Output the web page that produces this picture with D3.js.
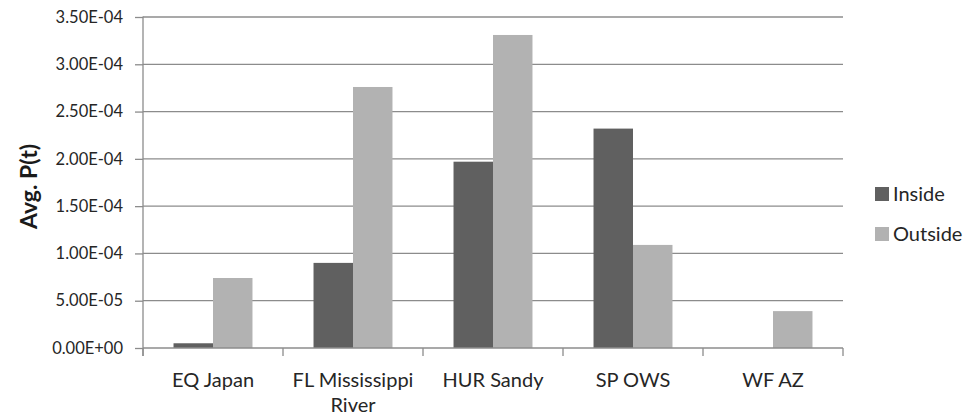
<!DOCTYPE html>
<html><head><meta charset="utf-8">
<script src="https://cdn.jsdelivr.net/npm/d3@7"></script>
<style>
html,body{margin:0;padding:0;background:#fff;}
svg{display:block;font-family:Lato,"Open Sans",sans-serif;}
</style></head>
<body>
<svg id="chart" width="969" height="416"></svg>
<script>
const categories = ["EQ Japan", "FL Mississippi River", "HUR Sandy", "SP OWS", "WF AZ"];
const categoryLines = [["EQ Japan"], ["FL Mississippi", "River"], ["HUR Sandy"], ["SP OWS"], ["WF AZ"]];
const seriesNames = ["Inside", "Outside"];
const insideValues = [5e-6, 9.0e-5, 1.97e-4, 2.32e-4, 0];
const outsideValues = [7.4e-5, 2.76e-4, 3.31e-4, 1.09e-4, 3.9e-5];
const yTickValues = [0, 5e-5, 1e-4, 1.5e-4, 2e-4, 2.5e-4, 3e-4, 3.5e-4];
const yTickLabels = ["0.00E+00","5.00E-05","1.00E-04","1.50E-04","2.00E-04","2.50E-04","3.00E-04","3.50E-04"];
const yTitle = "Avg. P(t)";
const colors = ["#606060", "#b2b2b2"];

(function(){
const svg = d3.select("#chart");
const mLeft = 143, mRight = 843, mTop = 17, mBottom = 348;
const gridColor = "#8c8c8c";

const y = d3.scaleLinear().domain([0, 3.5e-4]).range([mBottom, mTop]);
const x0 = d3.scaleBand().domain(categories).range([mLeft, mRight]).paddingInner(0.436).paddingOuter(0.218);
const x1 = d3.scaleBand().domain(seriesNames).range([0, x0.bandwidth()]);

svg.append("g").selectAll("line").data(yTickValues.filter(v => v > 0)).join("line")
  .attr("x1", mLeft).attr("x2", mRight)
  .attr("y1", d => y(d)).attr("y2", d => y(d))
  .attr("stroke", gridColor).attr("stroke-width", 1.3);

const data = categories.map((c, i) => ({cat: c, vals: [
  {s: "Inside", v: insideValues[i], c: colors[0]},
  {s: "Outside", v: outsideValues[i], c: colors[1]}]}));
const g = svg.append("g").selectAll("g").data(data).join("g")
  .attr("transform", d => `translate(${x0(d.cat)},0)`);
g.selectAll("rect").data(d => d.vals.filter(e => e.v > 0)).join("rect")
  .attr("x", d => x1(d.s)).attr("width", x1.bandwidth())
  .attr("y", d => y(d.v)).attr("height", d => y(0) - y(d.v))
  .attr("fill", d => d.c);

const yAxis = d3.axisLeft(y).tickValues(yTickValues).tickSize(8).tickPadding(12)
  .tickFormat((d, i) => yTickLabels[i]);
const ya = svg.append("g").attr("transform", `translate(${mLeft},0)`).call(yAxis);
ya.select(".domain").attr("stroke", gridColor).attr("stroke-width", 1.3).attr("d", `M0,${mTop-0.5}V${mBottom+8}`);
ya.selectAll(".tick line").attr("stroke", gridColor).attr("stroke-width", 1.3);
ya.selectAll(".tick text").attr("fill", "#262626").style("font-size", "16.5px").style("font-family", "Lato");

const xBoundaries = categories.map(c => x0(c) - x0.step() * x0.paddingOuter()).concat([mRight]);
const xa = svg.append("g");
xa.append("line").attr("x1", mLeft).attr("x2", mRight).attr("y1", mBottom).attr("y2", mBottom)
  .attr("stroke", gridColor).attr("stroke-width", 1.3);
xa.selectAll("line.tk").data(xBoundaries).join("line").attr("class", "tk")
  .attr("x1", d => d).attr("x2", d => d).attr("y1", mBottom).attr("y2", mBottom + 8)
  .attr("stroke", gridColor).attr("stroke-width", 1.3);
const xl = xa.selectAll("text").data(categories).join("text")
  .attr("x", d => x0(d) + x0.bandwidth() / 2).attr("y", 387)
  .attr("text-anchor", "middle").attr("fill", "#262626")
  .style("font-size", "20px");
xl.each(function(d, i) {
  const t = d3.select(this);
  categoryLines[i].forEach((ln, j) => {
    t.append("tspan").attr("x", x0(d) + x0.bandwidth() / 2).attr("dy", j === 0 ? 0 : 25).text(ln);
  });
});

svg.append("text").attr("transform", `translate(37,${(mTop + mBottom) / 2 + 4}) rotate(-90)`)
  .attr("text-anchor", "middle").attr("fill", "#1a1a1a")
  .style("font-size", "23px").style("font-weight", "bold").text(yTitle);

const legY = [194, 234];
const lg = svg.append("g").selectAll("g").data(seriesNames).join("g")
  .attr("transform", (d, i) => `translate(875,${legY[i]})`);
lg.append("rect").attr("x", 0).attr("y", -7).attr("width", 14).attr("height", 14)
  .attr("fill", (d, i) => colors[i]);
lg.append("text").attr("x", 18).attr("y", 0).attr("dy", "0.36em")
  .attr("fill", "#262626").style("font-size", "20px").text(d => d);
})();
</script>
</body></html>
